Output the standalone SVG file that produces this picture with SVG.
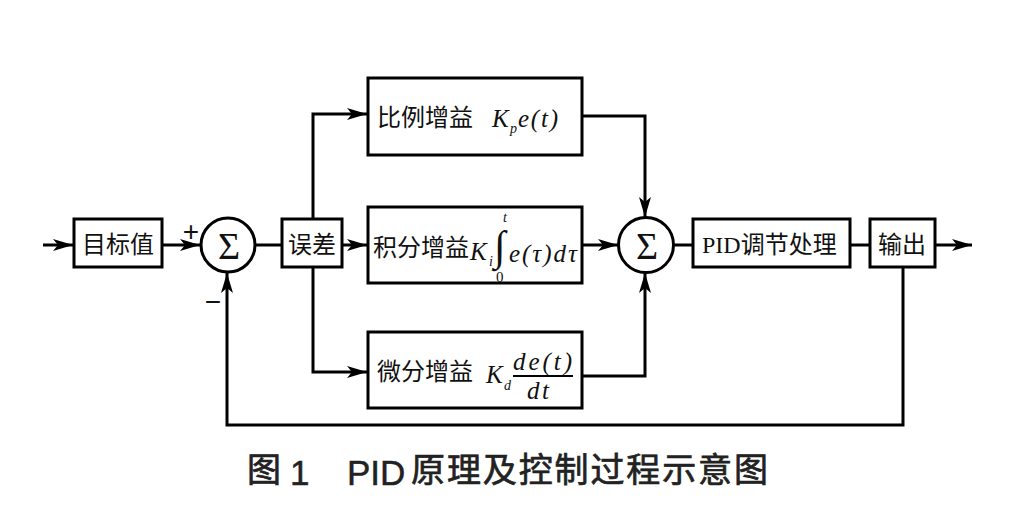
<svg xmlns="http://www.w3.org/2000/svg" width="1029" height="520" viewBox="0 0 1029 520">
<style>
.box{fill:#fff;stroke:#000;stroke-width:3}
.sum{fill:#fff;stroke:#000;stroke-width:3}
.ln{fill:none;stroke:#000;stroke-width:3}
.cn{font-family:"Noto Sans CJK SC","Liberation Serif",serif;font-size:24px;fill:#111}
.m{font-family:"Liberation Serif",serif;font-style:italic;font-size:25px;fill:#111}
.sub{font-family:"Liberation Serif",serif;font-style:italic;font-size:14px;fill:#111}
.up{font-family:"Liberation Serif",serif;font-size:15px;fill:#111}
.sig{font-family:"Liberation Serif",serif;font-size:38px;fill:#111}
.sg{font-family:"Liberation Sans",sans-serif;font-size:28px;fill:#111}
.cap{font-family:"Noto Sans CJK SC","Liberation Sans",sans-serif;font-size:34px;fill:#222;stroke:#222;stroke-width:0.7}
.capl{font-family:"Liberation Sans",sans-serif;font-size:35px;fill:#222;stroke:#222;stroke-width:0.5}
</style>
<defs>
<marker id="ah" markerUnits="userSpaceOnUse" markerWidth="22" markerHeight="14" refX="20" refY="6" orient="auto">
<path d="M0,0 L20,6 L0,12 L5,6 z" fill="#000"/>
</marker>
</defs>
<rect width="1029" height="520" fill="#fff"/>
<g id="connectors">
<path class="ln" d="M43,245 H73" marker-end="url(#ah)"/>
<path class="ln" d="M162,245 H200" marker-end="url(#ah)"/>
<path class="ln" d="M255,245 H282"/>
<path class="ln" d="M342,245 H367" marker-end="url(#ah)"/>
<path class="ln" d="M313,218 V114 H367" marker-end="url(#ah)"/>
<path class="ln" d="M313,267 V372 H367" marker-end="url(#ah)"/>
<path class="ln" d="M582,116 H645 V217" marker-end="url(#ah)"/>
<path class="ln" d="M582,245 H618" marker-end="url(#ah)"/>
<path class="ln" d="M582,376 H645 V273" marker-end="url(#ah)"/>
<path class="ln" d="M674,245 H693"/>
<path class="ln" d="M850,245 H870"/>
<path class="ln" d="M935,245 H972" marker-end="url(#ah)"/>
<path class="ln" d="M903,267 V425 H227 V273" marker-end="url(#ah)"/>
</g>
<g id="target">
<rect class="box" x="74" y="219" width="88" height="48"/>
<text class="cn" x="118" y="253" text-anchor="middle">目标值</text>
</g>
<g id="sum1">
<circle class="sum" cx="228" cy="245" r="27"/>
<text class="sig" x="229" y="259" text-anchor="middle">Σ</text>
<text class="sg" x="191" y="241" text-anchor="middle">+</text>
<text class="sg" x="213" y="311" text-anchor="middle">−</text>
</g>
<g id="error">
<rect class="box" x="282" y="219" width="60" height="48"/>
<text class="cn" x="312" y="253" text-anchor="middle">误差</text>
</g>
<g id="proportional">
<rect class="box" x="368" y="78" width="214" height="77"/>
<text class="cn" x="377" y="126">比例增益</text>
<text class="m" x="492" y="127">K</text>
<text class="sub" x="510" y="133">p</text>
<text class="m" x="518" y="127" textLength="40" lengthAdjust="spacing">e(t)</text>
</g>
<g id="integral">
<rect class="box" x="368" y="207" width="214" height="76"/>
<text class="cn" x="373" y="256">积分增益</text>
<text class="m" x="470" y="260">K</text>
<text class="sub" x="489" y="266">i</text>
<text x="494" y="260" style="font-family:'Liberation Serif',serif;font-size:42px;fill:#111">∫</text>
<text class="sub" x="503" y="222">t</text>
<text class="up" x="496" y="282">0</text>
<text class="m" x="509" y="262" textLength="68" lengthAdjust="spacing">e(τ)dτ</text>
</g>
<g id="derivative">
<rect class="box" x="368" y="332" width="214" height="76"/>
<text class="cn" x="377" y="380">微分增益</text>
<text class="m" x="486" y="383">K</text>
<text class="sub" x="504" y="390">d</text>
<text class="m" x="513" y="370" textLength="59" lengthAdjust="spacing">de(t)</text>
<line x1="513" y1="376" x2="573" y2="376" stroke="#000" stroke-width="2"/>
<text class="m" x="527" y="399" textLength="22" lengthAdjust="spacing">dt</text>
</g>
<g id="sum2">
<circle class="sum" cx="646" cy="245" r="27.5"/>
<text class="sig" x="647" y="259" text-anchor="middle">Σ</text>
</g>
<g id="pid">
<rect class="box" x="693" y="219" width="157" height="48"/>
<text class="cn" x="702" y="253"><tspan style="font-family:'Liberation Serif',serif">PID</tspan>调节处理</text>
</g>
<g id="output">
<rect class="box" x="870" y="219" width="65" height="48"/>
<text class="cn" x="902" y="253" text-anchor="middle">输出</text>
</g>
<g id="caption">
<text class="cap" x="247" y="482">图</text>
<text class="capl" x="290" y="485">1</text>
<text class="capl" x="347" y="485">PID</text>
<text class="cap" x="411" y="482" textLength="357" lengthAdjust="spacing">原理及控制过程示意图</text>
</g>
</svg>
